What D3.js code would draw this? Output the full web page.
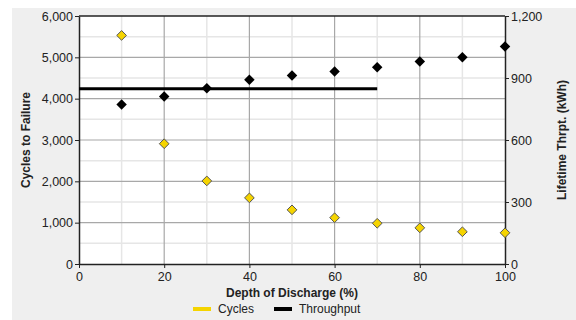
<!DOCTYPE html>
<html>
<head>
<meta charset="utf-8">
<script src="https://cdn.jsdelivr.net/npm/d3@7"></script>
<style>
body { margin:0; background:#fff; }
text { font-family: "Liberation Sans", Arial, sans-serif; fill:#222; }
</style>
</head>
<body>
<div id="chart"></div>
<script>
// size of SVG
var w = 576;
var h = 320;

// depth of discharge, %
var dod = [10, 20, 30, 40, 50, 60, 70, 80, 90, 100];
// cycles to failure
var cycles = [5530, 2910, 2010, 1600, 1310, 1120, 985, 875, 780, 755];
// lifetime throughput, kWh
var thrpt = [772, 810, 850, 892, 912, 932, 952, 980, 1000, 1052];
// constant throughput line
var lineDod = [0, 70];
var lineVal = [848, 848];

var xTicks = [0, 20, 40, 60, 80, 100];
var yTicks = [0, 1000, 2000, 3000, 4000, 5000, 6000];
var y2Ticks = [0, 300, 600, 900, 1200];

// plot box (note: "top" is taken by window.top)
var pLeft = 79, pRight = 505, pTop = 16, pBottom = 264;

var svg = d3.select("#chart").append("svg")
  .attr("width", w)
  .attr("height", h);

// grey panel
svg.append("rect").attr("x", 12).attr("y", 8)
  .attr("width", w - 12).attr("height", h - 8)
  .attr("fill", "#efefef");
svg.append("rect").attr("x", pLeft).attr("y", pTop)
  .attr("width", pRight - pLeft).attr("height", pBottom - pTop)
  .attr("fill", "#fff");

var x = d3.scaleLinear().domain([0, 100]).range([pLeft, pRight]);
var y = d3.scaleLinear().domain([0, 6000]).range([pBottom, pTop]);
var y2 = d3.scaleLinear().domain([0, 1200]).range([pBottom, pTop]);

// minor grid
var g = svg.append("g");
g.selectAll(".mx").data(d3.range(10, 100, 20)).enter().append("line")
  .attr("x1", function(d) { return x(d); }).attr("x2", function(d) { return x(d); })
  .attr("y1", pTop).attr("y2", pBottom)
  .attr("stroke", "#e6e6e6").attr("stroke-width", 1.5);
g.selectAll(".my").data(d3.range(500, 6000, 1000)).enter().append("line")
  .attr("x1", pLeft).attr("x2", pRight)
  .attr("y1", function(d) { return y(d); }).attr("y2", function(d) { return y(d); })
  .attr("stroke", "#e6e6e6").attr("stroke-width", 1.5);
// major grid
g.selectAll(".gx").data(xTicks.slice(1, -1)).enter().append("line")
  .attr("x1", function(d) { return x(d); }).attr("x2", function(d) { return x(d); })
  .attr("y1", pTop).attr("y2", pBottom)
  .attr("stroke", "#a8a8a8").attr("stroke-width", 1.2);
g.selectAll(".gy").data(yTicks.slice(1, -1)).enter().append("line")
  .attr("x1", pLeft).attr("x2", pRight)
  .attr("y1", function(d) { return y(d); }).attr("y2", function(d) { return y(d); })
  .attr("stroke", "#a8a8a8").attr("stroke-width", 1.2);
// top border
svg.append("line").attr("x1", pLeft).attr("x2", pRight)
  .attr("y1", pTop).attr("y2", pTop).attr("stroke", "#222").attr("stroke-width", 1.5);

// axes
var fmt = d3.format(",");
function styleAxis(sel) {
  sel.select(".domain").attr("stroke", "#222").attr("stroke-width", 1.5);
  sel.selectAll(".tick line").attr("stroke", "#222");
  sel.selectAll("text").style("font-size", "12.5px").attr("fill", "#222");
}
svg.append("g").attr("transform", "translate(0," + pBottom + ")")
  .call(d3.axisBottom(x).tickValues(xTicks).tickSize(4).tickSizeOuter(0).tickPadding(4))
  .call(styleAxis);
svg.append("g").attr("transform", "translate(" + pLeft + ",0)")
  .call(d3.axisLeft(y).tickValues(yTicks).tickFormat(fmt).tickSize(4).tickSizeOuter(0).tickPadding(2))
  .call(styleAxis);
svg.append("g").attr("transform", "translate(" + pRight + ",0)")
  .call(d3.axisRight(y2).tickValues(y2Ticks).tickFormat(fmt).tickSize(4).tickSizeOuter(0).tickPadding(2))
  .call(styleAxis);

// throughput line
var line = d3.line()
  .x(function(d, i) { return x(lineDod[i]); })
  .y(function(d) { return y2(d); });
svg.append("path").datum(lineVal)
  .attr("d", line).attr("fill", "none")
  .attr("stroke", "#000").attr("stroke-width", 3);

var diamond = d3.symbol().type(d3.symbolDiamond2);

// throughput markers
svg.selectAll(".thr").data(thrpt).enter().append("path")
  .attr("d", diamond.size(70))
  .attr("transform", function(d, i) { return "translate(" + x(dod[i]) + "," + y2(d) + ")"; })
  .attr("fill", "#000");

// cycles markers
svg.selectAll(".cyc").data(cycles).enter().append("path")
  .attr("d", diamond.size(60))
  .attr("transform", function(d, i) { return "translate(" + x(dod[i]) + "," + y(d) + ")"; })
  .attr("fill", "#f5d400").attr("stroke", "#555").attr("stroke-width", 1);

// axis titles
svg.append("text").attr("x", 292).attr("y", 297)
  .attr("text-anchor", "middle").style("font-size", "12px").style("font-weight", "bold")
  .text("Depth of Discharge (%)");
svg.append("text").attr("transform", "translate(30,140) rotate(-90)")
  .attr("text-anchor", "middle").style("font-size", "12px").style("font-weight", "bold")
  .text("Cycles to Failure");
svg.append("text").attr("transform", "translate(566,140) rotate(-90)")
  .attr("text-anchor", "middle").style("font-size", "12px").style("font-weight", "bold")
  .text("Lifetime Thrpt. (kWh)");

// legend
var legend = [{name: "Cycles", color: "#f5d400", x: 193}, {name: "Throughput", color: "#000", x: 274}];
var lg = svg.selectAll(".lg").data(legend).enter().append("g");
lg.append("line")
  .attr("x1", function(d) { return d.x; }).attr("x2", function(d) { return d.x + 18; })
  .attr("y1", 309).attr("y2", 309)
  .attr("stroke", function(d) { return d.color; }).attr("stroke-width", 4);
lg.append("text")
  .attr("x", function(d) { return d.x + 25; }).attr("y", 313)
  .style("font-size", "12px")
  .text(function(d) { return d.name; });
</script>
</body>
</html>
